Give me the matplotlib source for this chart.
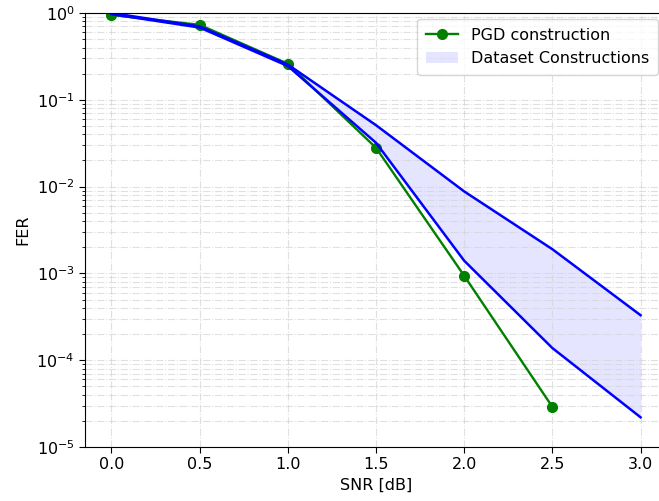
import matplotlib.pyplot as plt
import numpy as np

plt.rcParams["font.size"] = 11.5
plt.rcParams["xtick.major.size"] = 4
plt.rcParams["ytick.major.size"] = 4

# data
SNR = [0.0, 0.5, 1.0, 1.5, 2.0, 2.5, 3.0]
PGD_SNR = [0.0, 0.5, 1.0, 1.5, 2.0, 2.5]
PGD_FER = [0.95, 0.73, 0.26, 0.028, 9.4e-4, 2.9e-5]
DATASET_UPPER = [1.0, 0.70, 0.255, 0.051, 0.0088, 0.0019, 3.3e-4]
DATASET_LOWER = [0.97, 0.68, 0.245, 0.032, 0.0014, 1.38e-4, 2.2e-5]

fig = plt.figure(figsize=(6.59, 5.01), dpi=100)
ax = fig.add_axes([85 / 659, 1 - 447 / 501, (667 - 85) / 659, (447 - 13) / 501])

ax.plot(PGD_SNR, PGD_FER, color="green", marker="o", markersize=7, linewidth=1.7,
        label="PGD construction")
ax.plot(SNR, DATASET_UPPER, color="blue", linewidth=1.8)
ax.plot(SNR, DATASET_LOWER, color="blue", linewidth=1.8)
ax.fill_between(SNR, DATASET_LOWER, DATASET_UPPER, color="blue", alpha=0.1,
                linewidth=0, label="Dataset Constructions")

ax.set_yscale("log")
ax.set_ylim(1e-5, 1)
ax.set_xlim(-0.15, 3.15)
ax.set_xticks(np.arange(0, 3.01, 0.5))
ax.set_xlabel("SNR [dB]")
ax.set_ylabel("FER")
ax.grid(True, which="both", linestyle="-.", color="lightgray", alpha=0.7)
ax.legend(loc="upper right", bbox_to_anchor=(658 / 659, 1 - 19 / 501),
          bbox_transform=fig.transFigure, borderaxespad=0, borderpad=0.55)

fig.savefig("out.png", dpi=100)
